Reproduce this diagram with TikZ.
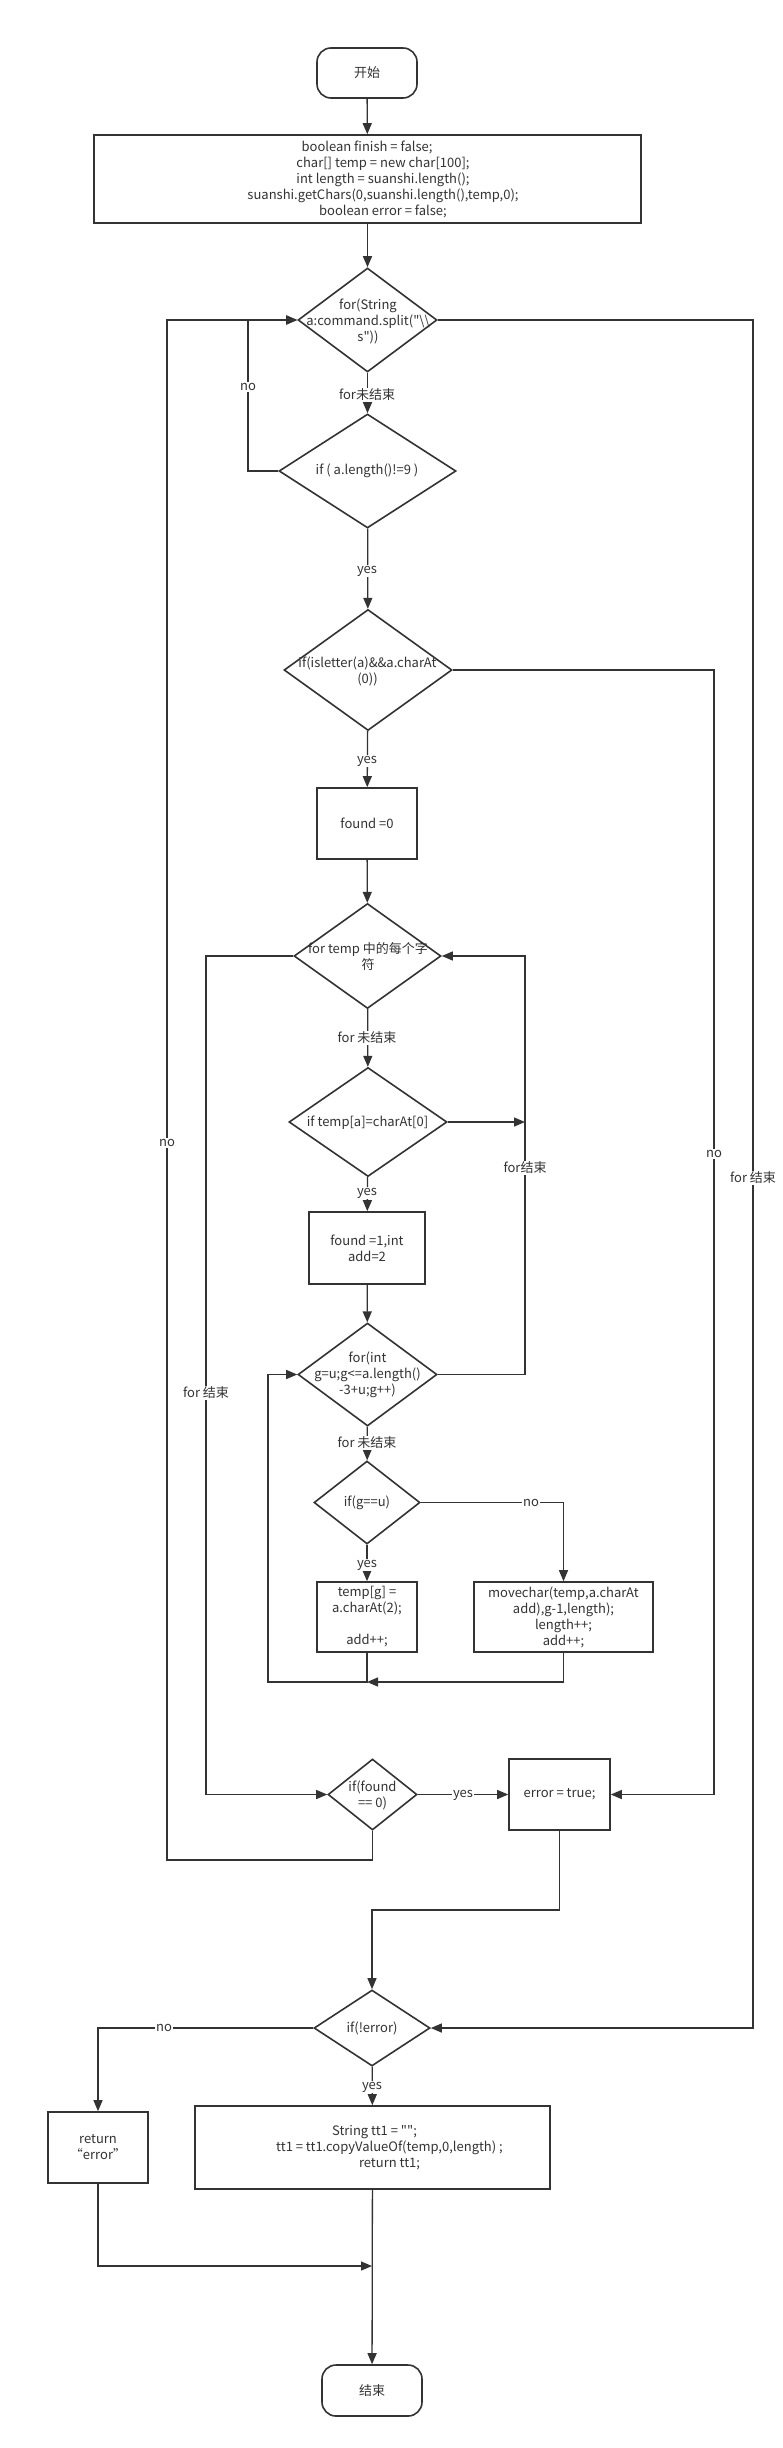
\documentclass[tikz,border=0pt]{standalone}
\usepackage{fontspec}
\setmainfont{Noto Sans CJK SC}[Ligatures=TeXOff]
\usetikzlibrary{shapes.geometric,arrows.meta}
\definecolor{ink}{HTML}{333333}
\begin{document}
\begin{tikzpicture}[x=1pt,y=-1pt,
  every node/.style={text=ink,font=\fontsize{13}{16}\selectfont},
  box/.style={draw=ink,line width=1.6pt,rectangle,inner sep=0pt,align=center},
  term/.style={box,rounded corners=14pt},
  dia/.style={draw=ink,line width=1.6pt,shape=diamond,inner sep=0pt},
  txt/.style={align=center,inner sep=0pt},
  lbl/.style={fill=white,inner sep=1pt},
  conn/.style={draw=ink,line width=1.3pt,-{Triangle[length=11pt,width=9pt]}},
  wire/.style={draw=ink,line width=1.3pt},
]
\useasboundingbox (0,0) rectangle (783,2448);
\fill[white] (0,0) rectangle (783,2448);

% nodes
\node[term,minimum width=100pt,minimum height=50pt] (start) at (367,73) {开始};
\node[box,minimum width=547pt,minimum height=88pt] (init) at (367.5,179) {};
\node[txt] (initT) at (383,179) {boolean finish = false;\hspace*{32pt}\\char[] temp = new char[100];\\int length = suanshi.length();\\suanshi.getChars(0,suanshi.length(),temp,0);\\boolean error = false;};

\node[dia,minimum width=139pt,minimum height=104pt] (d1) at (367.5,320) {};
\node[txt] (d1T) at (368,321) {for(String\\a:command.split("\textbackslash\textbackslash\\s"))};

\node[dia,minimum width=177pt,minimum height=114pt] (d2) at (367.5,471) {};
\node[txt] (d2T) at (367,471) {if ( a.length()!=9 )};

\node[dia,minimum width=168pt,minimum height=121pt] (d3) at (368,670) {};
\node[txt] (d3T) at (367.5,671) {if(isletter(a)\&\&a.charAt\\(0))};

\node[box,minimum width=100pt,minimum height=71pt] (f0) at (367,823.5) {found =0};

\node[dia,minimum width=147pt,minimum height=105pt] (d4) at (367.5,956) {};
\node[txt] (d4T) at (368,956.5) {for temp 中的每个字\\符};

\node[dia,minimum width=158pt,minimum height=109pt] (d5) at (368,1122) {};
\node[txt] (d5T) at (367.5,1123) {if temp[a]=charAt[0]};

\node[box,minimum width=116pt,minimum height=72pt] (f1) at (367,1248) {found =1,int\\add=2};

\node[dia,minimum width=139pt,minimum height=103pt] (d6) at (367.5,1374.5) {};
\node[txt] (d6T) at (367.5,1375) {for(int\\g=u;g<=a.length()\\-3+u;g++)};

\node[dia,minimum width=106pt,minimum height=83pt] (d7) at (367,1502.5) {};
\node[txt] (d7T) at (367,1503) {if(g==u)};

\node[box,minimum width=100pt,minimum height=70pt] (tg) at (367,1617) {temp[g] =\\a.charAt(2);\\[16pt]add++;};
\node[box,minimum width=179pt,minimum height=70pt] (mv) at (563.5,1617) {movechar(temp,a.charAt\\add),g-1,length);\\length++;\\add++;};

\node[dia,minimum width=89pt,minimum height=71pt] (df) at (372.5,1794.5) {};
\node[txt] (dfT) at (372.5,1795.5) {if(found\\== 0)};

\node[box,minimum width=101pt,minimum height=71pt] (err) at (559.5,1794.5) {error = true;};

\node[dia,minimum width=116pt,minimum height=76pt] (d8) at (372,2028) {};
\node[txt] (d8T) at (372,2028) {if(!error)};

\node[box,minimum width=100pt,minimum height=71pt] (ret) at (98,2147.5) {return\\“error”};
\node[box,minimum width=355pt,minimum height=83pt] (code) at (372.5,2147.5) {};
\node[txt] (codeT) at (389.5,2147.5) {String tt1 = "";\hspace*{30pt}\\tt1 = tt1.copyValueOf(temp,0,length) ;\\return tt1;};

\node[term,minimum width=100pt,minimum height=51pt] (end) at (372,2390.5) {结束};

% coordinates
\coordinate (j5) at (525,1122);
\coordinate (jt) at (367,1682);
\coordinate (je) at (372,2266);

% connectors
\draw[conn] (start) -- (init);
\draw[conn] (init) -- (d1);
\draw[conn] (d1) -- (d2);
\draw[conn] (d2.west) -- (248,471) |- (d1.west);
\draw[conn] (d2) -- (d3);
\draw[conn] (d3) -- (f0);
\draw[conn] (d3.east) -| (714,1794.5) -- (err.east);
\draw[conn] (d1.east) -| (753,2028) -- (d8.east);
\draw[conn] (f0) -- (d4);
\draw[conn] (d4) -- (d5);
\draw[conn] (d4.west) -| (206,1794.5) -- (df.west);
\draw[conn] (d5.east) -- (j5);
\draw[conn] (d6.east) -| (525,956) -- (d4.east);
\draw[conn] (d5) -- (f1);
\draw[conn] (f1) -- (d6);
\draw[conn] (d6) -- (d7);
\draw[conn] (d7.east) -| (mv.north);
\draw[conn] (d7) -- (tg);
\draw[conn] (tg.south) |- (268,1682) |- (d6.west);
\draw[conn] (mv.south) |- (jt);
\draw[conn] (df.east) -- (err.west);
\draw[conn] (df.south) |- (167,1860) |- (d1.west);
\draw[conn] (err.south) |- (372,1910) -- (d8.north);
\draw[conn] (d8.west) -| (ret.north);
\draw[conn] (d8) -- (code);
\draw[conn] (ret.south) |- (je);
\draw[conn] (code) -- (end);

% labels
\node[lbl] (l1) at (367,395) {for未结束};
\node[lbl] (l2) at (248,387) {no};
\node[lbl] (l3) at (367,571) {yes};
\node[lbl] (l4) at (367,761) {yes};
\node[lbl] (l5) at (714,1154) {no};
\node[lbl] (l6) at (753,1178) {for 结束};
\node[lbl] (l7) at (367,1038) {for 未结束};
\node[lbl] (l8) at (206,1393) {for 结束};
\node[lbl] (l9) at (525,1168) {for结束};
\node[lbl] (l10) at (167,1143) {no};
\node[lbl] (l11) at (367,1193) {yes};
\node[lbl] (l12) at (367,1443) {for 未结束};
\node[lbl] (l13) at (531,1503) {no};
\node[lbl] (l14) at (367,1565) {yes};
\node[lbl] (l15) at (463,1795) {yes};
\node[lbl] (l16) at (164,2028) {no};
\node[lbl] (l17) at (372,2087) {yes};
\end{tikzpicture}
\end{document}
